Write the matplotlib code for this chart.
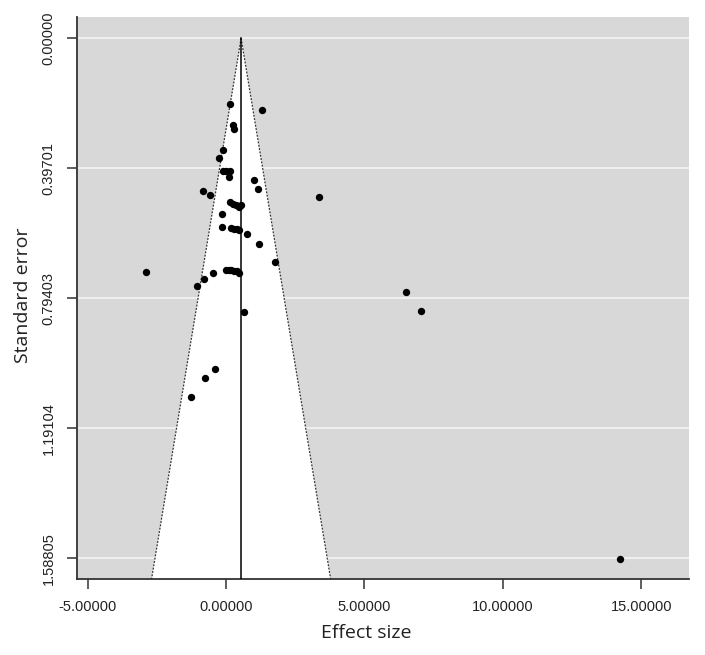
import matplotlib
matplotlib.use("Agg")
import matplotlib.pyplot as plt
import numpy as np

# Study effect sizes and standard errors
effect = [0.145, 1.29, 0.24, 0.29, -0.12, -0.24, -0.12, -0.02, 0.145, 0.108,
          0.99, 1.15, -0.84, -0.58, 3.37,
          0.145, 0.265, 0.36, 0.46, 0.55,
          -0.145, -0.145, 0.19, 0.29, 0.39, 0.48,
          0.77, 1.20, 1.76, -2.89,
          -0.01, 0.10, 0.19, 0.29, 0.39, 0.48,
          -0.46, -0.81, -1.05, 0.65,
          6.51, 7.06, 14.23,
          -0.41, -0.75, -1.28]
std_err = [0.201, 0.219, 0.266, 0.278, 0.341, 0.366, 0.406, 0.406, 0.406, 0.424,
           0.433, 0.459, 0.465, 0.480, 0.484,
           0.500, 0.505, 0.510, 0.515, 0.510,
           0.536, 0.576, 0.579, 0.581, 0.583, 0.586,
           0.599, 0.628, 0.683, 0.713,
           0.708, 0.708, 0.709, 0.710, 0.712, 0.716,
           0.716, 0.734, 0.756, 0.837,
           0.775, 0.834, 1.591,
           1.011, 1.036, 1.094]

pooled = 0.542
y_ticks = [0.0, 0.39701, 0.79403, 1.19104, 1.58805]
y_ticklabels = ["0.00000", "0.39701", "0.79403", "1.19104", "1.58805"]
x_ticks = [-5, 0, 5, 10, 15]
x_ticklabels = ["-5.00000", "0.00000", "5.00000", "10.00000", "15.00000"]

x_min, x_max = -5.40, 16.74
y_min, y_max = -0.064, 1.652

fig = plt.figure(figsize=(7.05, 6.55), dpi=100)
ax = fig.add_axes([76.7/705, 1-579.3/655, (689.3-76.7)/705, (579.3-17.3)/655])
ax.set_facecolor("#d8d8d8")

# grid lines
for yt in y_ticks:
    ax.axhline(yt, color="#f4f4f4", lw=1.2, zorder=1)

# funnel
se_bottom = y_max
fx = [pooled, pooled - 1.96*se_bottom, pooled + 1.96*se_bottom]
fy = [0, se_bottom, se_bottom]
ax.fill(fx, fy, color="white", zorder=2, lw=0)
ax.plot([pooled, pooled - 1.96*se_bottom], [0, se_bottom], ls=(0, (1.5, 1.2)), color="#333333", lw=0.9, zorder=3)
ax.plot([pooled, pooled + 1.96*se_bottom], [0, se_bottom], ls=(0, (1.5, 1.2)), color="#333333", lw=0.9, zorder=3)
ax.plot([pooled, pooled], [0, se_bottom], color="black", lw=1.1, zorder=3)

ax.scatter(effect, std_err, s=28, color="black", zorder=4, linewidths=0)

ax.set_xlim(x_min, x_max)
ax.set_ylim(y_max, y_min)

ax.set_xticks(x_ticks)
ax.set_xticklabels(x_ticklabels, fontfamily="Liberation Sans", fontsize=10.5, color="#222222")
ax.set_yticks(y_ticks)
ax.set_yticklabels(y_ticklabels, fontfamily="Liberation Sans", fontsize=10.5, color="#222222",
                   rotation=90, va="center")
ax.tick_params(axis="both", direction="out", length=7, width=1.1, color="#333333")
ax.tick_params(axis="x", pad=8)
ax.tick_params(axis="y", pad=8)

for s in ["top", "right"]:
    ax.spines[s].set_visible(False)
for s in ["left", "bottom"]:
    ax.spines[s].set_color("#333333")
    ax.spines[s].set_linewidth(1.3)

ax.set_xlabel("Effect size", fontfamily="Open Sans", fontsize=14, color="#222222")
ax.xaxis.set_label_coords((366-76.7)/(689.3-76.7), -(624-579.3)/(579.3-17.3), transform=ax.transAxes)
ax.set_ylabel("Standard error", fontfamily="Open Sans", fontsize=14, color="#222222")
ax.yaxis.set_label_coords(-(76.7-32)/(689.3-76.7), 1-(295-17.3)/(579.3-17.3), transform=ax.transAxes)

fig.savefig("out.png", dpi=100, facecolor="white")
